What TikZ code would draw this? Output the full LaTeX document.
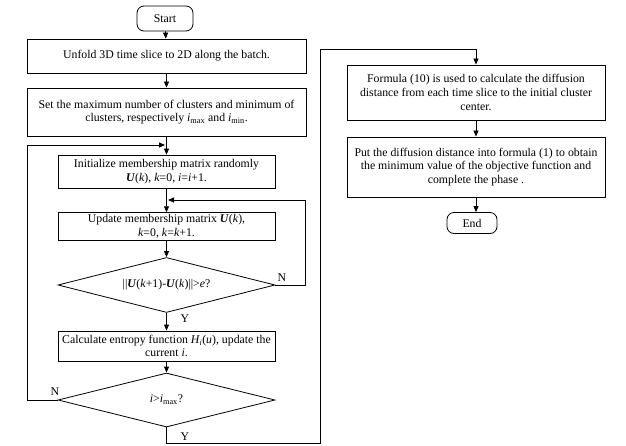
\documentclass[tikz,border=0pt]{standalone}
\usepackage{fontspec}
\setmainfont{Liberation Serif}
\usetikzlibrary{arrows.meta, shapes.geometric}

\begin{document}
\begin{tikzpicture}[x=1pt, y=-1pt, >={Triangle[length=6pt,width=5pt]},
  every node/.style={font=\fontsize{11.8}{13.6}\selectfont},
  box/.style={draw, line width=0.8pt, align=center, inner sep=2pt},
  term/.style={draw, line width=0.8pt, rounded corners=7pt, inner sep=2pt},
  dec/.style={draw, line width=0.8pt, diamond, aspect=4, inner sep=0pt},
  flow/.style={->, line width=0.8pt}]
  \useasboundingbox (0,0) rectangle (626,446);

  % Left column
  \node[term, minimum width=56, minimum height=25] (start) at (165,18.5) {Start};
  \node[box, minimum width=279, minimum height=34] (unfold) at (166.5,56)
    {Unfold 3D time slice to 2D along the batch.};
  \node[box, minimum width=279, minimum height=48] (setmax) at (166.5,112)
    {Set the maximum number of clusters and minimum of\\
     clusters, respectively \textit{i}\textsubscript{max} and \textit{i}\textsubscript{min}.};
  \node[box, minimum width=217, minimum height=33] (init) at (166.5,171.5)
    {Initialize membership matrix randomly\\
     \textbf{\textit{U}}(\textit{k}), \textit{k}=0, \textit{i}=\textit{i}+1.};
  \node[box, minimum width=217, minimum height=27] (update) at (166.5,226.5)
    {Update membership matrix \textbf{\textit{U}}(\textit{k}),\\
     \textit{k}=0, \textit{k}=\textit{k}+1.};
  \node[dec, minimum width=217, minimum height=55] (conv) at (166.5,285)
    {||\textbf{\textit{U}}(\textit{k}+1)-\textbf{\textit{U}}(\textit{k})||>\textit{e}?};
  \node[box, minimum width=217, minimum height=30] (entropy) at (166.5,346)
    {Calculate entropy function \textit{H\textsubscript{i}}(\textit{u}), update the\\
     current \textit{i}.};
  \node[dec, minimum width=217, minimum height=54] (imax) at (166.5,400)
    {\textit{i}>\textit{i}\textsubscript{max}?};

  % Right column
  \node[box, minimum width=258, minimum height=55] (formula) at (476,92.5)
    {Formula (10) is used to calculate the diffusion\\
     distance from each time slice to the initial cluster\\
     center.};
  \node[box, minimum width=258, minimum height=60] (put) at (476,167)
    {Put the diffusion distance into formula (1) to obtain\\
     the minimum value of the objective function and\\
     complete the phase .};
  \node[term, minimum width=50, minimum height=21] (end) at (472,223) {End};

  % Turning points
  \coordinate (loopin1) at (168,200);
  \coordinate (loopin2) at (165,145);
  \coordinate (yturn) at (320,443);
  \coordinate (ytop) at (320,49);

  % Main flow
  \draw[flow] (start) -- (unfold);
  \draw[flow] (unfold) -- (setmax);
  \draw[flow] (setmax) -- (init);
  \draw[flow] (init) -- (update);
  \draw[flow] (update) -- (conv);
  \draw[flow] (conv) -- (entropy);
  \draw[flow] (entropy) -- (imax);
  \draw[flow] (formula) -- (put);
  \draw[flow] (put.south) -- (put.south |- end.north);

  % Loops
  \draw[flow] (conv.east) -- ++(30,0) |- (loopin1);
  \draw[flow] (imax.west) -- (27,400) |- (loopin2);
  \draw[flow] (imax.south) |- (yturn) -- (ytop) -| (formula.north);

  % Labels
  \node at (282,278) {N};
  \node at (185,319) {Y};
  \node at (55,392) {N};
  \node at (185,437) {Y};
\end{tikzpicture}
\end{document}
